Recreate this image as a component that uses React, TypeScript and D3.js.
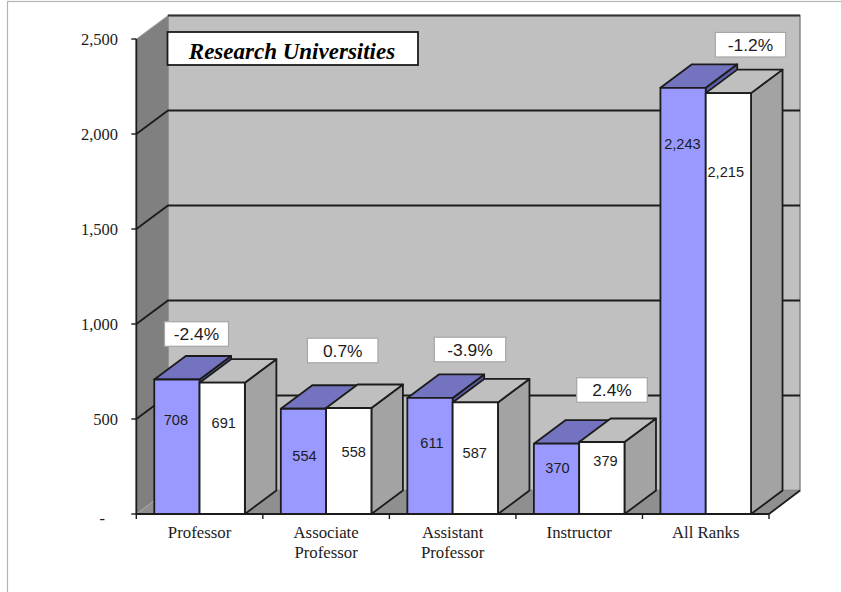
import React from "react";
import * as d3 from "d3";

const categories = [["Professor"], ["Associate", "Professor"], ["Assistant", "Professor"], ["Instructor"], ["All Ranks"]];
const series2003 = [708, 554, 611, 370, 2243];
const series2004 = [691, 558, 587, 379, 2215];
const changes = ["-2.4%", "0.7%", "-3.9%", "2.4%", "-1.2%"];
const yTicks = [0, 500, 1000, 1500, 2000, 2500];
const title = "Research Universities";

// hand placed annotations of the original: [dx from bar centre, dy below bar top]
const labelOffsetA = [[-1, 40.5], [1, 47], [2, 45], [1, 24], [-0.6, 56]];
const labelOffsetB = [[1.5, 40], [5, 44], [-0.6, 50.5], [3.7, 19], [-2.6, 79]];
// [centre x, centre y, width] of the change boxes
const changeBoxes = [[196.5, 334, 64], [342.7, 350.5, 70.5], [470, 349.5, 71.4], [612, 390, 70.6], [750.5, 44.7, 70.4]];

const SERIF = "'Liberation Serif', 'Times New Roman', serif";
const SANS = "'Liberation Sans', Arial, sans-serif";
const INK = "#1c1c1c";

const left = 136.3, right = 769, bottom = 514, top = 39;
const depthX = 31.5, depthY = 23.5;

const y = d3.scaleLinear().domain([0, 2500]).range([bottom, top]);
const x = d3.scaleBand<number>().domain(d3.range(categories.length)).range([left, right]).paddingInner(0.284).paddingOuter(0.142);
const barW = x.bandwidth() / 2;
const fmt = d3.format(",");

const poly = (pts: number[][]) => {
  const p = d3.path();
  pts.forEach(([a, b], i) => (i ? p.lineTo(a, b) : p.moveTo(a, b)));
  p.closePath();
  return p.toString();
};
const line = d3.line();

function Bar({ x0, v, front, topFill, side }: { x0: number; v: number; front: string; topFill: string; side: string }) {
  const t = y(v);
  const x1 = x0 + barW;
  return (
    <g stroke={INK} strokeWidth={1.8} strokeLinejoin="round">
      <path d={poly([[x1, t], [x1 + depthX, t - depthY], [x1 + depthX, bottom - depthY], [x1, bottom]])} fill={side} />
      <path d={poly([[x0, t], [x0 + depthX, t - depthY], [x1 + depthX, t - depthY], [x1, t]])} fill={topFill} />
      <rect x={x0} y={t} width={barW} height={bottom - t} fill={front} />
    </g>
  );
}

export default function App() {
  const backL = left + depthX + 0.2, backR = right + depthX - 0.5;
  const backT = top - depthY, backB = bottom - depthY;
  return (
    <svg width={841} height={592} style={{ position: "absolute", left: 0, top: 0, background: "#fff" }}>
      <rect x={7.5} y={1.5} width={860} height={640} fill="#fff" stroke="#b4b4b4" strokeWidth={1.2} />

      {/* walls */}
      <path d={poly([[backL, backT], [backR, backT], [backR, backB], [backL, backB]])} fill="#c0c0c0" stroke="#808080" strokeWidth={1.4} />
      <path d={poly([[left, top], [backL, backT], [backL, backB], [left, bottom]])} fill="#808080" />
      <path d={poly([[left, bottom], [backL, backB], [backR, backB], [right, bottom]])} fill="#8f8f8f" />
      <path d={line([[left, bottom], [backL, backB]])!} stroke="#a8a8a8" strokeWidth={1} fill="none" />
      <path d={line([[backL, backT], [backR, backT]])!} stroke="#333" strokeWidth={1.8} fill="none" />
      <path d={line([[left, top], [backL, backT]])!} stroke="#b0b0b0" strokeWidth={1} fill="none" />
      <path d={line([[right, bottom], [backR, backB]])!} stroke={INK} strokeWidth={1.8} fill="none" />

      {/* gridlines */}
      {yTicks.filter((t) => t > 0 && t < 2500).map((t) => (
        <path key={t} d={line([[left, y(t)], [backL, y(t) - depthY], [backR, y(t) - depthY]])!} stroke={INK} strokeWidth={1.8} fill="none" />
      ))}

      {/* axes */}
      <path d={line([[left, top], [left, bottom]])!} stroke={INK} strokeWidth={1.8} fill="none" />
      <path d={line([[left, bottom], [right, bottom]])!} stroke={INK} strokeWidth={1.8} fill="none" />
      {yTicks.map((t) => (
        <g key={t}>
          <path d={line([[left - 5, y(t)], [left, y(t)]])!} stroke={INK} strokeWidth={1.4} />
          <text x={t === 0 ? 105 : 118} y={t === 0 ? y(t) + 5 : y(t) + 0.5} dy="0.33em" textAnchor="end" fontFamily={SERIF} fontSize={16.5} fill={INK}>
            {t === 0 ? "-" : fmt(t)}
          </text>
        </g>
      ))}
      {d3.range(categories.length + 1).map((i) => {
        const tx = left + i * x.step();
        return <path key={i} d={line([[tx, bottom], [tx, bottom + 5]])!} stroke={INK} strokeWidth={1.4} />;
      })}
      {categories.map((lines, i) => (
        <text key={i} textAnchor="middle" fontFamily={SERIF} fontSize={16.8} fill={INK}>
          {lines.map((l, j) => (
            <tspan key={j} x={x(i)! + barW} y={538 + j * 20}>{l}</tspan>
          ))}
        </text>
      ))}

      {/* bars */}
      {categories.map((_, i) => (
        <g key={i}>
          <Bar x0={x(i)!} v={series2003[i]} front="#9999ff" topFill="#7373bf" side="#5c5ca6" />
          <Bar x0={x(i)! + barW} v={series2004[i]} front="#ffffff" topFill="#bfbfbf" side="#a3a3a3" />
        </g>
      ))}
      {categories.map((_, i) => (
        <g key={i} fontFamily={SANS} fontSize={14.6} fill={INK} textAnchor="middle">
          <text x={x(i)! + barW / 2 + labelOffsetA[i][0]} y={y(series2003[i]) + labelOffsetA[i][1]} dy="0.35em">{fmt(series2003[i])}</text>
          <text x={x(i)! + barW * 1.5 + labelOffsetB[i][0]} y={y(series2004[i]) + labelOffsetB[i][1]} dy="0.35em">{fmt(series2004[i])}</text>
        </g>
      ))}

      {/* change boxes */}
      {changes.map((c, i) => {
        const [cx, cy, w] = changeBoxes[i];
        return (
          <g key={c}>
            <rect x={cx - w / 2} y={cy - 12.3} width={w} height={24.6} fill="#fff" stroke="#a6a6a6" strokeWidth={1.2} />
            <text x={cx} y={cy} dy="0.35em" textAnchor="middle" fontFamily={SANS} fontSize={17.4} fill={INK}>{c}</text>
          </g>
        );
      })}

      {/* title */}
      <rect x={167.5} y={32} width={250.5} height={33} fill="#fff" stroke={INK} strokeWidth={1.8} />
      <text x={292} y={50.5} dy="0.35em" textAnchor="middle" fontFamily={SERIF} fontSize={23} fontWeight="bold" fontStyle="italic" fill="#000">{title}</text>
    </svg>
  );
}
